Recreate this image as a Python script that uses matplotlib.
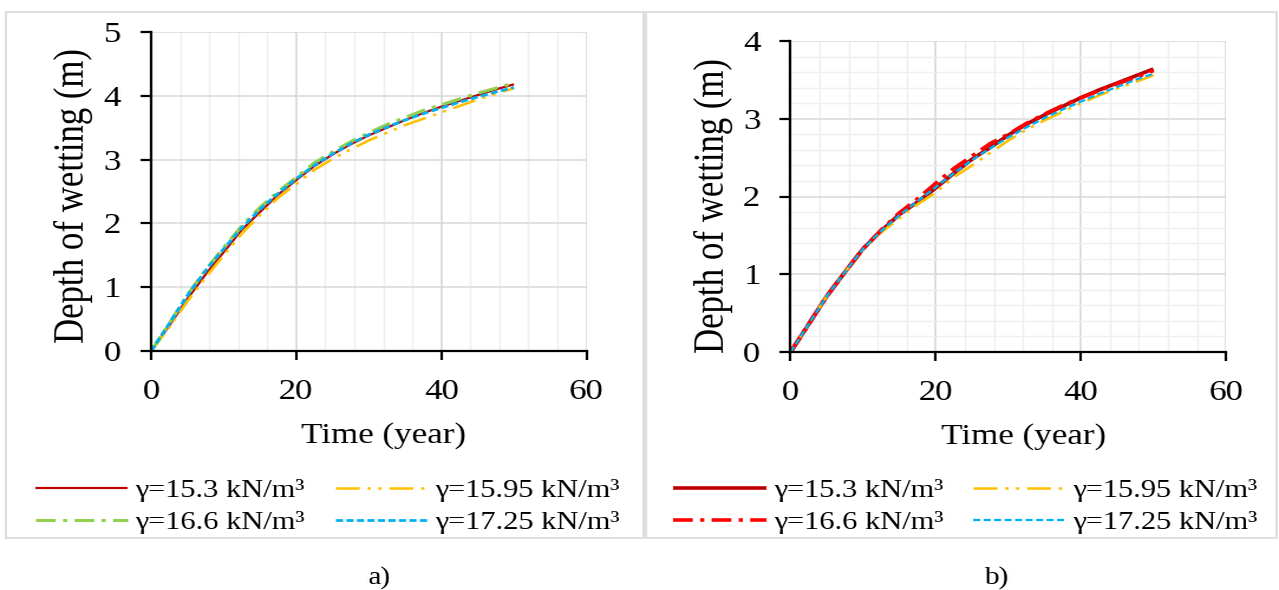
import matplotlib
matplotlib.use("Agg")
import matplotlib.pyplot as plt
from matplotlib.patches import Rectangle
from matplotlib.ticker import MultipleLocator
from PIL import Image

plt.rcParams["font.family"] = ["Liberation Serif", "DejaVu Serif"]
plt.rcParams["lines.scale_dashes"] = False

# ---- data -------------------------------------------------------------
time_years = [0, 2.5, 5, 7.5, 10, 12.5, 15, 17.5, 20, 22.5, 25,
              27.5, 30, 32.5, 35, 37.5, 40, 42.5, 45, 47.5, 50]

labels = ["γ=15.3 kN/m³", "γ=15.95 kN/m³", "γ=16.6 kN/m³", "γ=17.25 kN/m³"]

# panel a) depth of wetting (m)
a_153 = [0, 0.40, 0.82, 1.20, 1.55, 1.90, 2.18, 2.45, 2.68, 2.90, 3.08,
         3.24, 3.38, 3.50, 3.62, 3.73, 3.83, 3.92, 4.01, 4.10, 4.18]
a_1595 = [0, 0.37, 0.78, 1.15, 1.50, 1.84, 2.13, 2.40, 2.62, 2.84, 3.01,
          3.16, 3.30, 3.42, 3.54, 3.64, 3.74, 3.84, 3.94, 4.03, 4.12]
a_166 = [0, 0.43, 0.88, 1.27, 1.62, 1.96, 2.25, 2.50, 2.72, 2.95, 3.12,
         3.28, 3.42, 3.55, 3.66, 3.77, 3.86, 3.95, 4.04, 4.12, 4.20]
a_1725 = [0, 0.43, 0.87, 1.26, 1.60, 1.93, 2.22, 2.47, 2.70, 2.91, 3.09,
          3.25, 3.39, 3.51, 3.62, 3.72, 3.81, 3.90, 3.98, 4.06, 4.13]

# panel b) depth of wetting (m)
b_153 = [0, 0.36, 0.72, 1.03, 1.33, 1.56, 1.77, 1.93, 2.11, 2.30, 2.48,
         2.63, 2.79, 2.93, 3.05, 3.16, 3.27, 3.37, 3.46, 3.55, 3.64]
b_1595 = [0, 0.36, 0.72, 1.03, 1.32, 1.54, 1.72, 1.90, 2.05, 2.25, 2.40,
          2.56, 2.72, 2.86, 2.98, 3.09, 3.20, 3.30, 3.39, 3.47, 3.56]
b_166 = [0, 0.36, 0.72, 1.03, 1.33, 1.57, 1.79, 1.97, 2.17, 2.36, 2.52,
         2.68, 2.80, 2.94, 3.06, 3.17, 3.27, 3.36, 3.45, 3.53, 3.62]
b_1725 = [0, 0.36, 0.72, 1.03, 1.33, 1.56, 1.76, 1.94, 2.12, 2.30, 2.47,
          2.62, 2.76, 2.89, 3.01, 3.12, 3.22, 3.32, 3.41, 3.50, 3.58]

# ---- styles -----------------------------------------------------------
DASH_DOT = (0, (12, 4.5, 2.5, 4.5))
DASH_DOT_DOT = (0, (14.5, 4.8, 2.0, 4.5, 2.0, 4.8))
SHORT_DASH = (0, (4.3, 2.1))

styles_a = [
    dict(color="#C00000", lw=1.6, ls="-"),
    dict(color="#FFC000", lw=1.8, ls=DASH_DOT_DOT),
    dict(color="#92D050", lw=2.2, ls=DASH_DOT),
    dict(color="#00B0F0", lw=2.0, ls=SHORT_DASH),
]
styles_b = [
    dict(color="#C00000", lw=2.6, ls="-"),
    dict(color="#FFC000", lw=1.8, ls=DASH_DOT_DOT),
    dict(color="#FF0000", lw=2.6, ls=DASH_DOT),
    dict(color="#00B0F0", lw=1.6, ls=SHORT_DASH),
]

OUT_W, OUT_H = 1279, 590
STRETCH = 1.18
fig = plt.figure(figsize=(OUT_W / STRETCH / 100, OUT_H / 100), dpi=100)
fig.patch.set_facecolor("white")

# panel frames
for x0, x1 in [(6, 643), (645, 1276)]:
    fig.patches.append(Rectangle((x0 / OUT_W, 52 / OUT_H), (x1 - x0) / OUT_W,
                                 (578 - 52) / OUT_H, transform=fig.transFigure,
                                 fill=False, edgecolor="#d9d9d9", lw=1.2))

TICK_FS = 21.3


def setup(ax, ymax, minor_y, xlab_pos, ylab_pos):
    ax.set_xlim(0, 60)
    ax.set_ylim(0, ymax)
    ax.xaxis.set_major_locator(MultipleLocator(20))
    ax.xaxis.set_minor_locator(MultipleLocator(4))
    ax.yaxis.set_major_locator(MultipleLocator(1))
    if minor_y:
        ax.yaxis.set_minor_locator(MultipleLocator(0.2))
    for s in ("top", "right"):
        ax.spines[s].set_visible(False)
    for s in ("left", "bottom"):
        ax.spines[s].set_linewidth(1.6)
        ax.spines[s].set_color("black")
    ax.tick_params(which="major", direction="out", length=6.5, width=1.6,
                   labelsize=TICK_FS, colors="black")
    ax.tick_params(axis="x", which="major", pad=14)
    ax.tick_params(axis="y", which="major", pad=12)
    ax.tick_params(which="minor", length=0)
    ax.set_axisbelow(True)
    ax.grid(which="major", color="#d9d9d9", lw=1.1)
    ax.grid(which="minor", axis="x", color="#efefef", lw=1.0)
    if minor_y:
        ax.grid(which="minor", axis="y", color="#efefef", lw=1.0)
    ax.set_xlabel("Time (year)", fontsize=TICK_FS)
    ax.xaxis.set_label_coords(*xlab_pos)
    ax.set_ylabel("Depth of wetting (m)", fontsize=25)
    ax.yaxis.set_label_coords(*ylab_pos)
    ax.yaxis.label.set_verticalalignment("center")


def panel(rect, series, styles, ymax, minor_y, xlab_pos, ylab_pos, leg_x):
    ax = fig.add_axes(rect)
    handles = []
    for y, st in zip(series, styles):
        (h,) = ax.plot(time_years, y, color=st["color"], lw=st["lw"],
                       linestyle=st["ls"], solid_capstyle="butt",
                       dash_capstyle="butt", clip_on=False)
        handles.append(h)
    setup(ax, ymax, minor_y, xlab_pos, ylab_pos)
    # two rows: 15.3 | 15.95 on top, 16.6 | 17.25 below (columns fill first)
    order = [0, 2, 1, 3]
    ax.legend([handles[i] for i in order], [labels[i] for i in order],
              loc="upper left", bbox_to_anchor=(leg_x, 0.188),
              bbox_transform=fig.transFigure, ncol=2, frameon=False,
              fontsize=18.5, borderpad=0, borderaxespad=0,
              handlelength=3.05, handletextpad=0.23, columnspacing=1.0,
              labelspacing=0.36)
    return ax


panel([151 / OUT_W, 239 / OUT_H, 435 / OUT_W, 319 / OUT_H],
      [a_153, a_1595, a_166, a_1725], styles_a, 5, False,
      (0.533, -0.223), (-0.177, 0.487), 35 / OUT_W)
panel([790 / OUT_W, 238 / OUT_H, 435 / OUT_W, 311 / OUT_H],
      [b_153, b_1595, b_166, b_1725], styles_b, 4, True,
      (0.534, -0.228), (-0.177, 0.471), 673 / OUT_W)

fig.text(378 / OUT_W, 12 / OUT_H, "a)", ha="center", va="center", fontsize=18)
fig.text(995 / OUT_W, 12 / OUT_H, "b)", ha="center", va="center", fontsize=18)

fig.savefig("out.png", dpi=100, facecolor="white")

# widen the rendered page to its final proportions
img = Image.open("out.png").convert("RGB")
img = img.resize((OUT_W, OUT_H), Image.LANCZOS)
img.save("out.png")
